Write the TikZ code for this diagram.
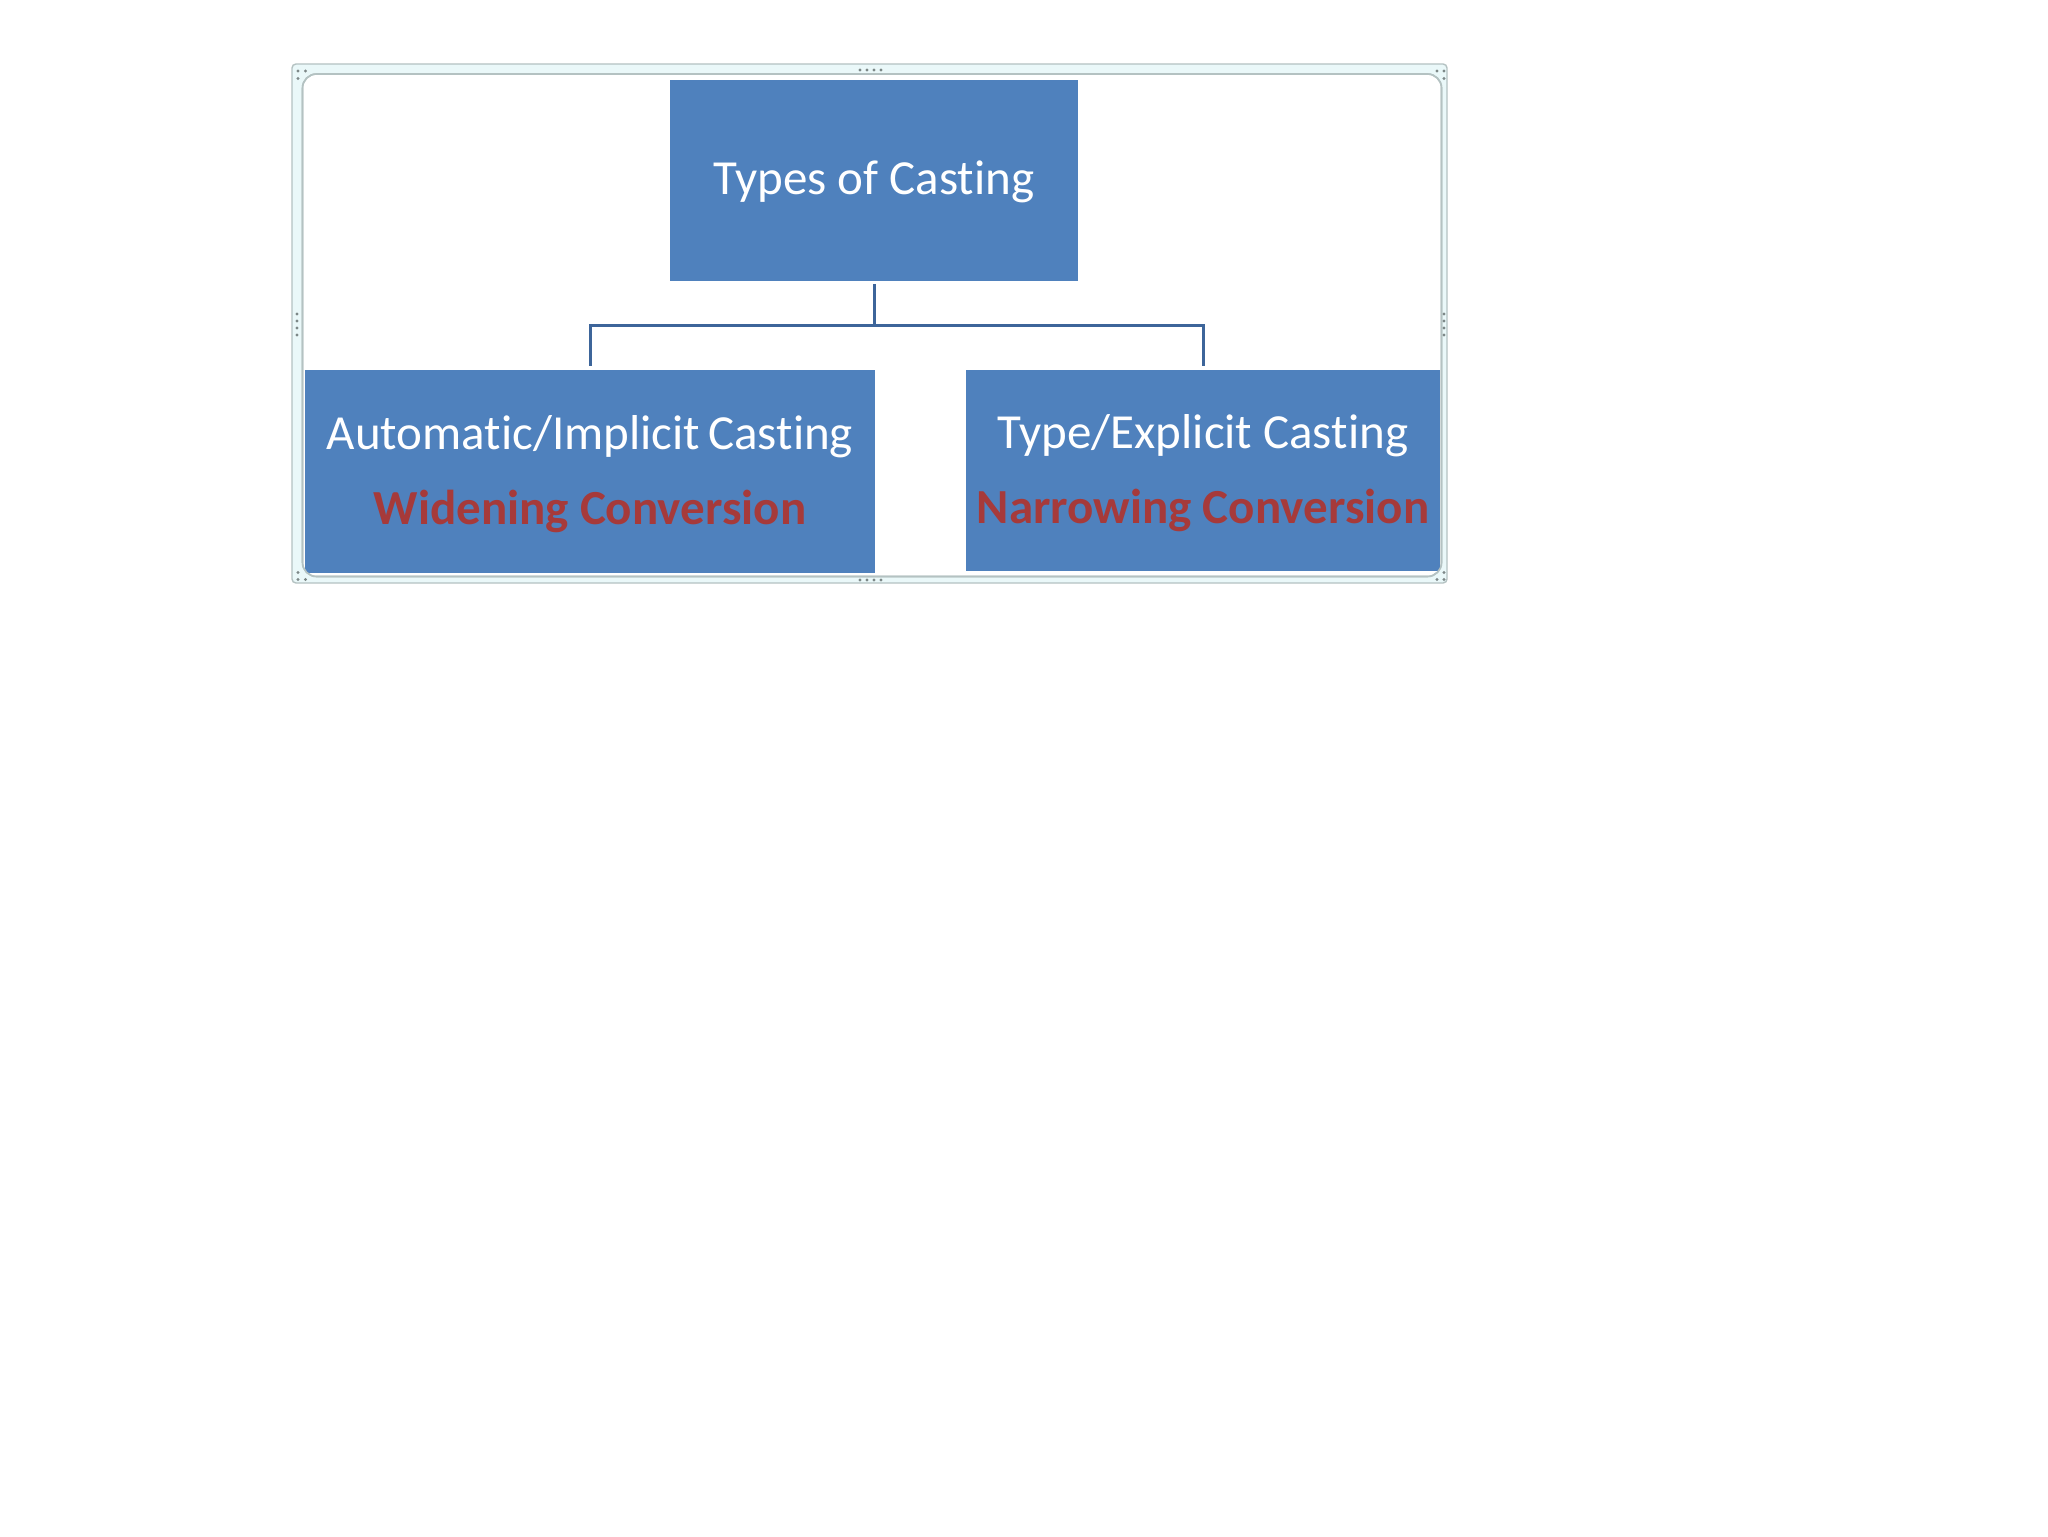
\documentclass[tikz,border=0pt]{standalone}
\usepackage{fontspec}
\setmainfont[Ligatures=NoCommon]{Carlito}
\definecolor{boxblue}{HTML}{4F81BD}
\definecolor{connblue}{HTML}{3D659A}
\definecolor{convred}{HTML}{A63A3A}
\definecolor{bandcyan}{HTML}{EAF8F9}
\definecolor{framegray}{HTML}{B4C2C2}
\definecolor{handlegray}{HTML}{7D8888}
\tikzset{
  px/.style={x=0.5pt,y=-0.5pt},
  blubox/.style={rectangle, fill=boxblue, inner sep=0pt},
  boxtext/.style={inner sep=0pt, text=white, align=center,
    font=\fontsize{24.5}{37.5}\selectfont},
  conn/.style={draw=connblue, line width=1.5pt},
  handle/.style={fill=handlegray}
}
\begin{document}
\begin{tikzpicture}[px]
\useasboundingbox (0,0) rectangle (2048,1536);
\fill[white] (0,0) rectangle (2048,1536);
% frame
\draw[fill=bandcyan, draw=framegray, line width=0.7pt, rounded corners=2pt] (292,64) rectangle (1447,583);
\draw[fill=white, draw=framegray, line width=0.8pt, rounded corners=7pt] (302.5,74) rectangle (1441.5,576.5);
\begin{scope}
\clip[rounded corners=7pt] (302.5,74) rectangle (1441.5,576.5);
\node[blubox, minimum width=204pt, minimum height=100.5pt] (top) at (874,180.5) {};
\node[blubox, minimum width=285pt, minimum height=101.5pt] (left) at (590,471.5) {};
\node[blubox, minimum width=237pt, minimum height=100.5pt] (right) at (1203,470.5) {};
\end{scope}
\node[boxtext, yshift=-0.5pt] (toplabel) at (top.center) {Types of Casting};
\node[boxtext, yshift=-1.5pt] (leftlabel) at (left.center)
  {Automatic/Implicit\,Casting\\{\color{convred}\bfseries Widening Conversion}};
\node[boxtext, yshift=-1.5pt] (rightlabel) at (right.center)
  {Type/Explicit Casting\\{\color{convred}\bfseries Narrowing Conversion}};
\draw[framegray, line width=0.8pt, rounded corners=7pt] (302.5,74) rectangle (1441.5,576.5);
% connectors
\coordinate (hub) at (874,325);
\draw[conn] ([yshift=-1.5pt]top.south) -- (hub);
\draw[conn] ([yshift=2pt]left.north) |- (hub) -| ([yshift=2pt]right.north);
% handles
\foreach \hx in {860,867,874,881}{
  \fill[handle] (\hx,70) circle (0.85pt);
  \fill[handle] (\hx,580) circle (0.85pt);
}
\foreach \hy in {314,321,328,335}{
  \fill[handle] (297,\hy) circle (0.85pt);
  \fill[handle] (1444,\hy) circle (0.85pt);
}
\foreach \hx/\hy in {298/71,305.5/71,298/78.5, 1437/71,1444/71,1444/78.5,
  298/572.5,298/579.5,305.5/579.5, 1437/579.5,1444/579.5,1444/572.5}{
  \fill[handle] (\hx,\hy) circle (0.85pt);
}
\end{tikzpicture}
\end{document}
